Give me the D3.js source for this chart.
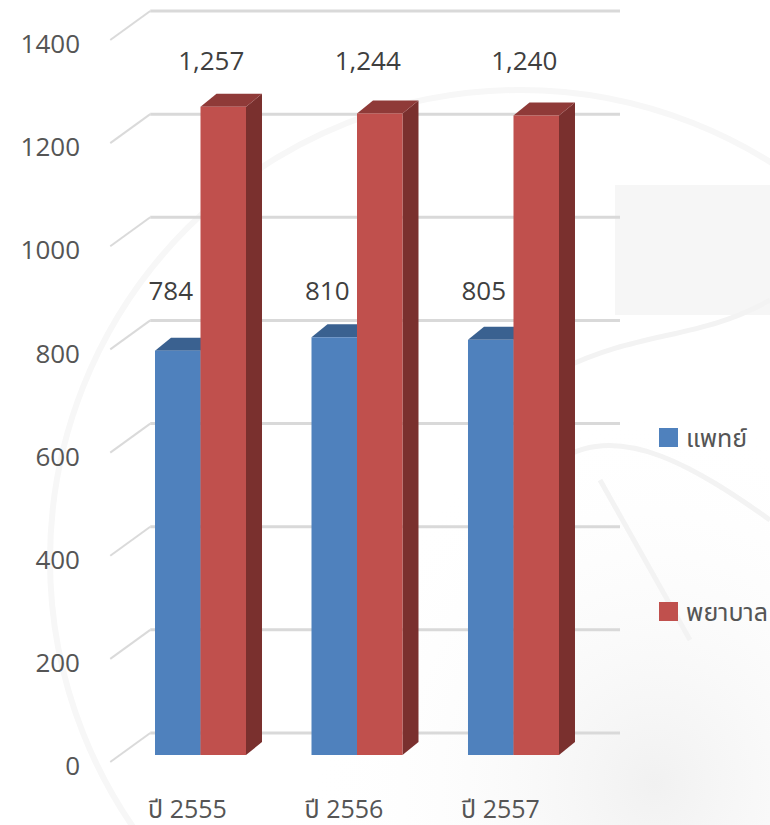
<!DOCTYPE html>
<html>
<head>
<meta charset="utf-8">
<script src="https://cdn.jsdelivr.net/npm/d3@7/dist/d3.min.js"></script>
<style>
  html, body { margin: 0; padding: 0; background: #ffffff; }
  svg { display: block; }
  text { font-family: "Open Sans", "Noto Sans", "Noto Sans Thai", "DejaVu Sans", sans-serif; }
</style>
</head>
<body>
<svg id="chart" width="770" height="825"></svg>
<script>
// ---- data ----
const categories = ["ปี 2555", "ปี 2556", "ปี 2557"];
const seriesNames = ["แพทย์", "พยาบาล"];
const doctors = [784, 810, 805];
const nurses = [1257, 1244, 1240];
const yTicks = [0, 200, 400, 600, 800, 1000, 1200, 1400];

const seriesValues = [doctors, nurses];
const colors = {
  front: ["#4F81BD", "#C0504D"],
  top:   ["#3A6190", "#8F3A38"],
  side:  ["#2F4F75", "#7A302E"]
};

const svg = d3.select("#chart");

// ---- faint background watermark ----
const bg = svg.append("g");
bg.append("rect").attr("x", 615).attr("y", 185).attr("width", 155).attr("height", 130).attr("fill", "#f6f6f6");
const grad = svg.append("defs").append("radialGradient").attr("id", "bgGrad")
  .attr("cx", "85%").attr("cy", "95%").attr("r", "45%");
grad.append("stop").attr("offset", "0%").attr("stop-color", "#f1f1f1");
grad.append("stop").attr("offset", "100%").attr("stop-color", "#ffffff").attr("stop-opacity", 0);
bg.append("rect").attr("x", 0).attr("y", 0).attr("width", 770).attr("height", 825).attr("fill", "url(#bgGrad)");
bg.append("circle").attr("cx", 520).attr("cy", 560).attr("r", 470)
  .attr("fill", "none").attr("stroke", "#f7f7f7").attr("stroke-width", 6);
bg.append("path").attr("d", "M560,460 C620,420 700,470 770,520 M600,480 L690,640 M560,370 C640,330 700,340 770,300")
  .attr("fill", "none").attr("stroke", "#f3f3f3").attr("stroke-width", 5);

// ---- scales ----
const maxV = 1400;
const yBack = d3.scaleLinear().domain([0, maxV]).range([733, 11]);   // back wall
const wallDX = 40, wallDY = 29;                                       // left wall depth
const yFront = v => yBack(v) + wallDY;                                // front edge of side wall
const yBar = d3.scaleLinear().domain([0, maxV]).range([755, 33]);    // bar front plane
const barDX = 16, barDY = 13;                                         // bar depth

const x = d3.scaleBand().domain(categories).range([122.25, 591.75])
  .paddingInner(0.4185).paddingOuter(0.2093);
const xs = d3.scaleBand().domain(seriesNames).range([0, x.bandwidth()]);

const backLeft = x.range()[0] + 28, backRight = 620;

// ---- gridlines ----
const grid = svg.append("g");
yTicks.forEach(t => {
  grid.append("line")
    .attr("x1", backLeft).attr("x2", backRight)
    .attr("y1", yBack(t)).attr("y2", yBack(t))
    .attr("stroke", "#d9d9d9").attr("stroke-width", 3);
  grid.append("line")
    .attr("x1", backLeft - wallDX).attr("y1", yFront(t))
    .attr("x2", backLeft).attr("y2", yBack(t))
    .attr("stroke", "#dadada").attr("stroke-width", 2);
});

// ---- y tick labels ----
svg.append("g").selectAll("text").data(yTicks).join("text")
  .attr("x", 80).attr("y", d => yFront(d) + 4)
  .attr("dy", "0.35em")
  .attr("text-anchor", "end")
  .attr("font-size", 26).attr("fill", "#555555")
  .text(d => d);

// ---- bars ----
const bars = svg.append("g");
categories.forEach((c, ci) => {
  seriesNames.forEach((s, si) => {
    const v = seriesValues[si][ci];
    const x0 = x(c) + xs(s), x1 = x0 + xs.bandwidth();
    const yt = yBar(v), yb = yBar(0);
    const g = bars.append("g");
    g.append("polygon")
      .attr("points", [[x1, yt], [x1 + barDX, yt - barDY], [x1 + barDX, yb - barDY], [x1, yb]].join(" "))
      .attr("fill", colors.side[si]);
    g.append("polygon")
      .attr("points", [[x0, yt], [x0 + barDX, yt - barDY], [x1 + barDX, yt - barDY], [x1, yt]].join(" "))
      .attr("fill", colors.top[si]);
    g.append("rect")
      .attr("x", x0).attr("y", yt).attr("width", x1 - x0).attr("height", yb - yt)
      .attr("fill", colors.front[si]);
  });
});

// ---- data labels ----
const labelShift = [-7, -12];
seriesNames.forEach((s, si) => {
  const vals = seriesValues[si];
  const ly = yBar(d3.max(vals)) - 37;
  svg.append("g").selectAll("text").data(categories).join("text")
    .attr("x", c => x(c) + xs(s) + xs.bandwidth() / 2 + labelShift[si])
    .attr("y", ly)
    .attr("text-anchor", "middle")
    .attr("font-size", 26).attr("fill", "#3f3f3f")
    .text((c, i) => d3.format(",")(vals[i]));
});

// ---- x labels ----
svg.append("g").selectAll("text").data(categories).join("text")
  .attr("x", c => x(c) + x.bandwidth() / 2 - 13)
  .attr("y", 818)
  .attr("text-anchor", "middle")
  .attr("font-size", 25).attr("fill", "#555555")
  .text(c => c);

// ---- legend ----
const legendY = d3.scalePoint().domain(seriesNames).range([428, 602]);
const lg = svg.append("g").selectAll("g").data(seriesNames).join("g")
  .attr("transform", d => `translate(659,${legendY(d)})`);
lg.append("rect").attr("width", 19).attr("height", 19)
  .attr("fill", (d, i) => colors.front[i]);
lg.append("text").attr("x", 27).attr("y", 19)
  .attr("font-size", 25).attr("fill", "#555555")
  .text(d => d);
</script>
</body>
</html>
